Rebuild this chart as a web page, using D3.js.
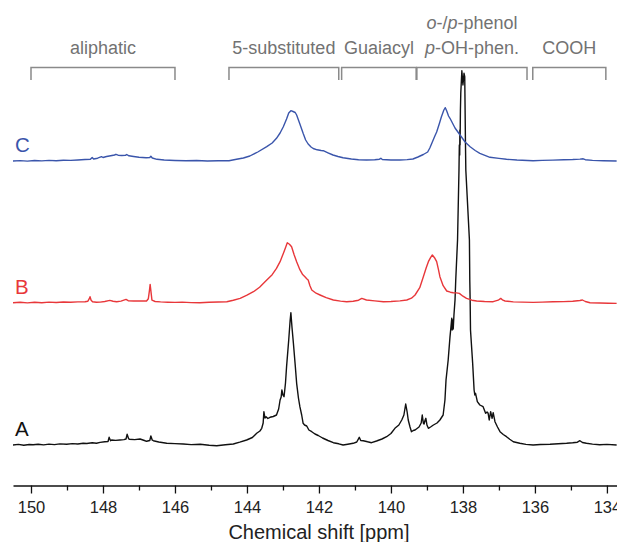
<!DOCTYPE html>
<html>
<head>
<meta charset="utf-8">
<script src="https://cdn.jsdelivr.net/npm/d3@7"></script>
<style>
  html, body { margin: 0; padding: 0; background: #fff; }
  svg { display: block; font-family: "Liberation Sans", Arial, sans-serif; }
</style>
</head>
<body>
<svg id="chart" width="617" height="542"></svg>
<script>
// ---------------- DATA ----------------
const majorTicks = [150, 148, 146, 144, 142, 140, 138, 136, 134];
const minorTicks = [149, 147, 145, 143, 141, 139, 137, 135];
const axisTitle = "Chemical shift [ppm]";

const spectrumNames = ["A", "B", "C"];
const spectrumOffsets = [0, 142.3, 284];
const spectrumColors = ["#111111", "#e8373a", "#3a55ab"];

const regionNames = ["aliphatic", "5-substituted", "Guaiacyl", "phenol", "COOH"];
const regionStart = [150.0, 144.5, 141.37, 139.28, 136.06];
const regionEnd = [146.0, 141.45, 139.3, 136.22, 134.03];

// [ppm, intensity]
const specA = [[150.5,0],[150.35,0.6],[150.2,-0.3],[150.05,0.5],[149.94,0.2],[149.8,0.8],[149.65,0.1],[149.5,0.9],[149.35,0.4],[149.2,1.1],[149.01,0.7],[148.85,1.4],[148.7,1.0],[148.55,1.8],[148.45,1.5],[148.3,2.2],[148.18,1.8],[148.08,2.6],[147.95,3.2],[147.86,3.5],[147.83,7.7],[147.79,4.2],[147.76,5],[147.65,4.6],[147.53,5],[147.42,5.4],[147.36,6],[147.33,10.7],[147.29,6.5],[147.27,5.7],[147.12,5.4],[146.97,6],[146.85,4.5],[146.79,3.7],[146.7,4.5],[146.67,9],[146.63,4.8],[146.6,4.3],[146.45,3],[146.23,1.7],[146.0,1.4],[145.77,1],[145.55,0.4],[145.3,0.8],[145.05,-0.2],[144.84,-0.7],[144.6,0.3],[144.38,1],[144.2,2.8],[144.01,5],[143.85,7.5],[143.73,11.7],[143.64,14],[143.59,16.7],[143.55,22],[143.53,33.3],[143.5,27],[143.47,28.3],[143.42,26.5],[143.36,27.7],[143.27,28.5],[143.18,30],[143.12,36],[143.08,45],[143.05,48],[143.03,55],[143.0,50],[142.97,48.3],[142.93,62],[142.90,78.3],[142.84,105],[142.80,125],[142.78,132.3],[142.75,118],[142.71,101.7],[142.66,80],[142.62,61.7],[142.57,47],[142.53,38.3],[142.48,30],[142.44,21.7],[142.4,20],[142.34,19],[142.28,15],[142.2,13.3],[142.11,11],[142.02,9.5],[141.9,7],[141.75,4.5],[141.6,2.3],[141.45,1.2],[141.33,0],[141.2,0.8],[141.05,1.7],[140.95,3],[140.88,7.7],[140.84,4.5],[140.77,4.3],[140.65,3.2],[140.54,2.3],[140.4,4],[140.25,6],[140.12,8.3],[140.0,11.5],[139.89,16.7],[139.78,20],[139.70,25],[139.64,30],[139.59,41],[139.55,33],[139.52,25],[139.47,18],[139.43,13.3],[139.38,14.5],[139.33,15],[139.22,18],[139.16,22],[139.13,30],[139.10,22],[139.08,21],[139.05,25],[139.03,26.7],[139.0,20],[138.96,16.7],[138.9,18],[138.82,20],[138.72,22],[138.64,25],[138.55,30],[138.5,45],[138.47,65],[138.41,85],[138.36,108],[138.31,126.7],[138.30,115],[138.28,125],[138.27,116],[138.25,130],[138.22,145],[138.20,165],[138.15,205],[138.11,275],[138.10,300],[138.09,290],[138.085,315],[138.08,300],[138.07,335],[138.06,351.7],[138.03,374.3],[138.0,360],[137.97,371.7],[137.95,368.3],[137.94,335],[137.93,301.7],[137.92,275],[137.82,205],[137.81,165],[137.80,145],[137.79,115],[137.73,81.7],[137.69,55],[137.67,50],[137.65,51.7],[137.6,43.3],[137.53,40],[137.44,38.3],[137.37,31.7],[137.33,33],[137.30,31.7],[137.27,25],[137.23,33.3],[137.19,26.7],[137.16,32.3],[137.11,23.3],[137.04,18],[136.97,13.3],[136.88,10.5],[136.79,8.3],[136.7,5.8],[136.6,3.3],[136.42,1.7],[136.25,0.6],[136.05,0],[135.85,0.5],[135.58,0.7],[135.35,1.3],[135.12,1.7],[134.95,2.2],[134.82,2.8],[134.75,4.3],[134.68,2.5],[134.57,1.7],[134.4,0.9],[134.2,0.3],[134.0,0.6],[133.73,0]];

const specB = [[150.5,0],[150.3,0.5],[150.1,-0.2],[149.9,0.4],[149.7,0],[149.5,0.6],[149.3,0.2],[149.1,0.7],[148.9,0.5],[148.7,0.8],[148.5,1],[148.42,1.5],[148.38,4],[148.36,6],[148.33,2.5],[148.29,1],[148.18,0.5],[148.08,0.6],[147.95,1.2],[147.81,2.3],[147.72,1.5],[147.62,1],[147.5,1.6],[147.36,3.3],[147.3,2],[147.15,1.7],[146.97,1.7],[146.79,1.7],[146.74,4],[146.71,12],[146.69,18.3],[146.67,12],[146.64,2.5],[146.55,1.2],[146.4,0.8],[146.2,0.5],[146.0,0.3],[145.8,0.6],[145.55,0.1],[145.31,0],[145.05,0.4],[144.8,0.7],[144.56,1],[144.38,2.5],[144.19,4.3],[144.0,7.5],[143.82,11],[143.65,15.5],[143.45,22.7],[143.3,28],[143.18,34.3],[143.08,41],[142.99,49.3],[142.93,55],[142.88,60],[142.82,58.5],[142.76,56],[142.69,48],[142.62,41],[142.53,33],[142.46,28.5],[142.39,26],[142.34,24],[142.30,22.7],[142.25,17],[142.20,12.7],[142.08,9.5],[141.97,7.7],[141.8,5],[141.6,2.7],[141.4,1.6],[141.23,1],[141.05,1.5],[140.9,2.5],[140.81,4.3],[140.68,2.7],[140.45,1.8],[140.21,1],[140.0,1.2],[139.75,1.8],[139.56,2.7],[139.43,4.5],[139.33,7.7],[139.2,15],[139.10,26],[139.02,35],[138.96,41],[138.90,45],[138.85,47.7],[138.79,45],[138.73,41],[138.68,33],[138.64,26],[138.55,17],[138.45,11.7],[138.35,10.5],[138.27,10],[138.18,9.8],[138.10,9.3],[138.0,6.5],[137.90,4.3],[137.75,2.5],[137.62,1.7],[137.4,1.2],[137.16,1],[137.02,2.5],[136.95,4.3],[136.89,2.5],[136.83,1.7],[136.6,0.8],[136.35,0.6],[136.05,0.3],[135.8,0.6],[135.5,0.9],[135.2,1.1],[134.95,1.5],[134.75,2.2],[134.68,2.7],[134.6,1.2],[134.47,0],[134.2,-0.3],[133.95,-0.5],[133.73,-0.7]];

const specC = [[150.5,0],[150.3,0.4],[150.1,-0.1],[149.9,0.5],[149.7,0.1],[149.5,0.6],[149.3,0.3],[149.1,0.8],[148.9,0.6],[148.7,1],[148.5,1.5],[148.35,1.7],[148.3,3.5],[148.26,2],[148.15,2.8],[148.04,4.3],[148.0,3.5],[147.9,4.5],[147.75,5.5],[147.68,6],[147.64,6.7],[147.58,5.8],[147.48,5.5],[147.38,5.6],[147.34,6.5],[147.28,5.2],[147.15,4.5],[147.0,3.7],[146.8,3.2],[146.7,3.5],[146.67,4.8],[146.63,3],[146.5,1.7],[146.3,1],[146.0,0.5],[145.7,0.2],[145.4,0.5],[145.1,0],[144.8,0.3],[144.5,0.2],[144.29,1.7],[144.1,3],[143.92,5],[143.7,9],[143.45,14.3],[143.3,18],[143.18,22.7],[143.08,28],[142.99,34.3],[142.9,42],[142.84,48],[142.78,50.3],[142.72,49.5],[142.66,48.5],[142.62,46],[142.53,37],[142.44,27.7],[142.37,21],[142.3,17],[142.22,14],[142.16,12.5],[142.05,11.2],[141.94,10.5],[141.88,10.3],[141.75,8.2],[141.61,6],[141.47,4.5],[141.33,3.3],[141.1,2],[140.9,1.3],[140.68,1],[140.45,1.3],[140.32,1.8],[140.28,2.7],[140.24,1.5],[140.0,1],[139.75,1],[139.55,1.4],[139.39,2],[139.25,4],[139.10,6.5],[138.98,9],[138.92,13],[138.85,19],[138.78,25],[138.73,29],[138.65,38],[138.60,44],[138.56,48],[138.53,51],[138.49,53.3],[138.45,50],[138.40,45],[138.36,42.7],[138.22,33],[138.08,26],[137.94,19],[137.80,14.3],[137.66,10.5],[137.53,7.7],[137.25,3.7],[137.0,2.6],[136.79,1.7],[136.5,1],[136.05,0.3],[135.8,0.6],[135.5,0.9],[135.2,1.2],[134.95,1.5],[134.75,1.9],[134.66,2.2],[134.6,1.3],[134.4,0.6],[134.1,0.2],[133.73,0]];

const spectra = [specA, specB, specC];

// ---------------- DRAW ----------------
const svg = d3.select("#chart");
const x = d3.scaleLinear().domain([150.5, 133.72]).range([13, 617]);
const y = d3.scaleLinear().domain([0, 400]).range([445, 45]);
const font = "'Liberation Sans', Arial, sans-serif";

// spectra
spectra.forEach((data, i) => {
  const off = spectrumOffsets[i];
  const line = d3.line()
    .x(d => x(d[0]))
    .y(d => y(d[1] + off))
    .curve(d3.curveLinear);
  svg.append("path")
    .datum(data)
    .attr("d", line)
    .attr("fill", "none")
    .attr("stroke", spectrumColors[i])
    .attr("stroke-width", 1.4)
    .attr("stroke-linejoin", "round");
  svg.append("text")
    .attr("x", 15)
    .attr("y", y(off) - 9)
    .attr("font-size", 20.5)
    .attr("fill", spectrumColors[i])
    .text(spectrumNames[i]);
});

// region brackets
const bracketTop = 67.5, bracketBottom = 80;
regionNames.forEach((name, i) => {
  const x0 = x(regionStart[i]), x1 = x(regionEnd[i]);
  svg.append("path")
    .attr("d", `M${x0},${bracketBottom}V${bracketTop}H${x1}V${bracketBottom}`)
    .attr("fill", "none")
    .attr("stroke", "#8a8a8a")
    .attr("stroke-width", 1.5);
  const cx = (x0 + x1) / 2;
  if (name === "phenol") {
    const t1 = svg.append("text").attr("x", cx).attr("y", 29)
      .attr("text-anchor", "middle").attr("font-size", 18).attr("fill", "#727272");
    t1.append("tspan").attr("font-style", "italic").text("o");
    t1.append("tspan").text("-/");
    t1.append("tspan").attr("font-style", "italic").text("p");
    t1.append("tspan").text("-phenol");
    const t2 = svg.append("text").attr("x", cx).attr("y", 54.3)
      .attr("text-anchor", "middle").attr("font-size", 18).attr("fill", "#727272");
    t2.append("tspan").attr("font-style", "italic").text("p");
    t2.append("tspan").text("-OH-phen.");
  } else {
    svg.append("text").attr("x", cx).attr("y", 54.3)
      .attr("text-anchor", "middle").attr("font-size", 18).attr("fill", "#727272")
      .text(name);
  }
});

// x axis
const axisY = 485.5;
const gMinor = svg.append("g").attr("transform", `translate(0,${axisY})`)
  .call(d3.axisBottom(x).tickValues(minorTicks).tickSize(5).tickSizeOuter(0).tickFormat(""));
gMinor.select(".domain").remove();
gMinor.selectAll(".tick line").attr("stroke", "#111").attr("stroke-width", 1.3);

const gMajor = svg.append("g").attr("transform", `translate(0,${axisY})`)
  .call(d3.axisBottom(x).tickValues(majorTicks).tickSize(8).tickSizeOuter(0).tickPadding(8).tickFormat(d3.format("d")));
gMajor.select(".domain").attr("stroke", "#111").attr("stroke-width", 1.4);
gMajor.selectAll(".tick line").attr("stroke", "#111").attr("stroke-width", 1.3);
gMajor.selectAll(".tick text").attr("font-size", 16.5).attr("font-family", font).attr("fill", "#222");

svg.append("text")
  .attr("x", 319).attr("y", 538.5)
  .attr("text-anchor", "middle")
  .attr("font-size", 20)
  .attr("fill", "#222")
  .text(axisTitle);
</script>
</body>
</html>
